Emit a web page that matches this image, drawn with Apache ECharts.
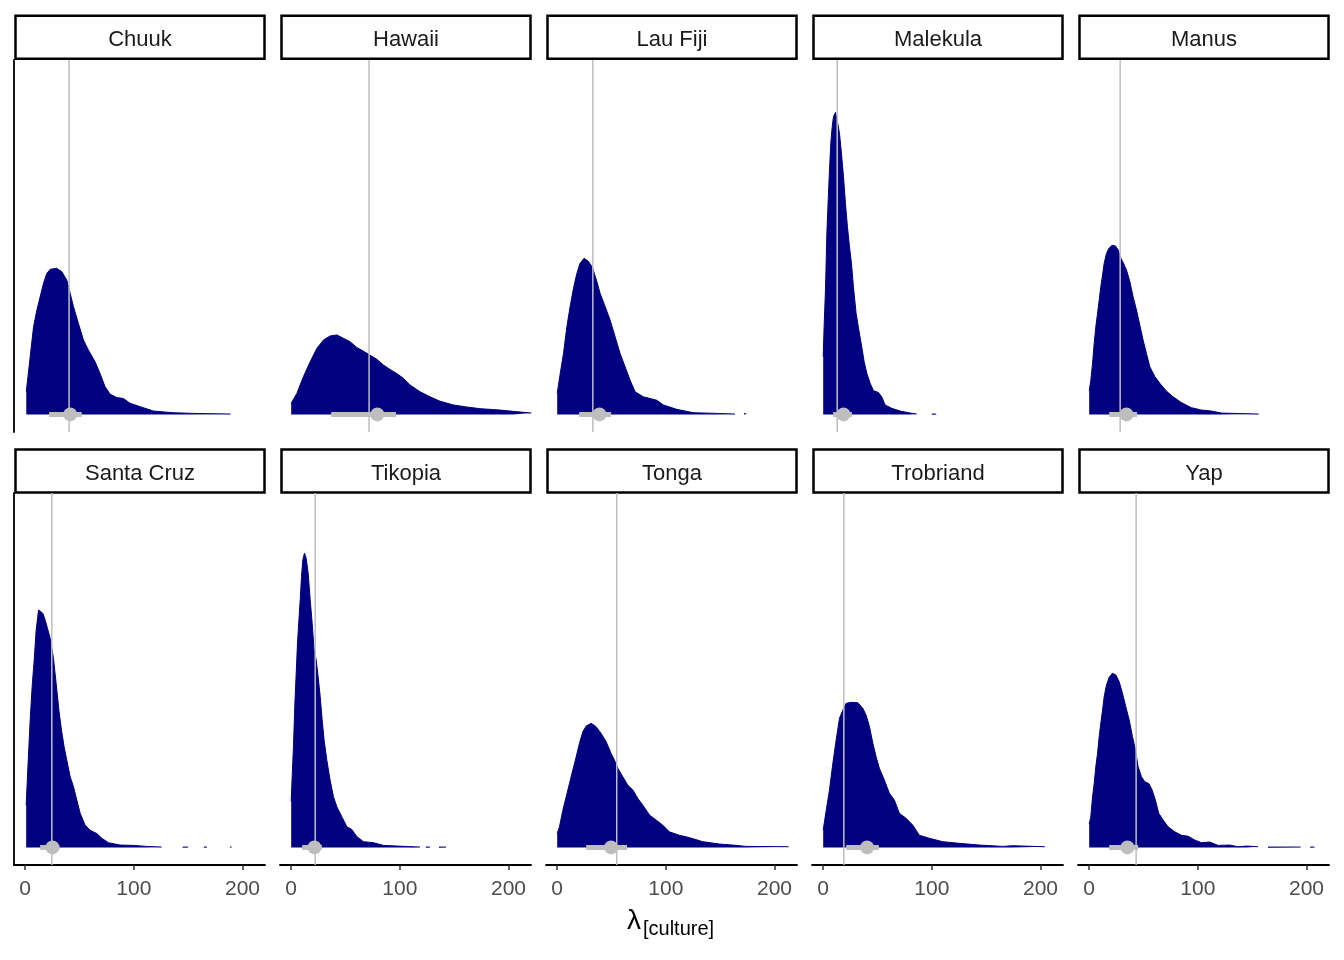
<!DOCTYPE html>
<html>
<head>
<meta charset="utf-8">
<script src="https://cdn.jsdelivr.net/npm/echarts@6/dist/echarts.min.js"></script>
<style>
  html, body { margin: 0; background: #fff; }
  #chart { width: 1344px; height: 960px; }
</style>
</head>
<body>
<div id="chart"></div>
<script>
const cultures = ['Chuuk', 'Hawaii', 'Lau Fiji', 'Malekula', 'Manus', 'Santa Cruz', 'Tikopia', 'Tonga', 'Trobriand', 'Yap']
const tickValues = [0, 100, 200]

// observed value (vertical line), posterior point estimate and interval
const observed = [40.4, 71.7, 32.8, 12.9, 28.5, 24.5, 22.1, 54.8, 19.0, 43.2]
const pointEst = [41.4, 79.3, 38.9, 18.7, 34.3, 25.1, 21.4, 49.6, 40.4, 35.2]
const lower = [22, 36.8, 20.2, 9.2, 18.4, 13.8, 10.1, 26.7, 21.1, 18.4]
const upper = [52, 96.5, 49.6, 26.4, 44.1, 31.5, 28.2, 64.3, 51.2, 45]

// posterior densities (relative height), null = gap
const chuukX = [1, 4.6, 7.7, 10.7, 13.8, 16.9, 19.9, 23, 29, 33.7, 38.3, 41.4, 44.4, 49, 53.6, 58.2, 64.3, 68.9, 73.5, 78.1, 84.3, 90.4, 96.5, 105.7, 118, 136, 155, 189]
const chuukD = [.067, .171, .259, .308, .348, .388, .417, .429, .432, .422, .397, .358, .319, .269, .220, .190, .156, .121, .082, .060, .050, .047, .033, .023, .010, .005, .003, .001]

const hawaiiX = [0, 5.2, 11.3, 17.5, 23.6, 29.7, 35.8, 42, 48.1, 54.2, 60.4, 66.5, 72.6, 78.8, 84.9, 91, 97.1, 103.2, 109.4, 118.6, 127.8, 137, 149.2, 161.5, 173.7, 192, 204.3, 221]
const hawaiiD = [.033, .062, .112, .156, .195, .220, .232, .235, .225, .215, .198, .187, .175, .163, .146, .133, .121, .107, .087, .067, .052, .039, .028, .022, .017, .013, .009, .004]

const lauFijiX = [0, 2.8, 5.8, 8.9, 11.9, 15, 18.1, 21.1, 24.8, 28.8, 32.4, 36.5, 39.5, 44.1, 48.7, 53.3, 57.9, 62.5, 67.1, 71.7, 79.3, 91.6, 97.7, 110, 125.3, 146.8, 163.6, 168, 172, 174]
const lauFijiD = [.062, .121, .180, .259, .319, .373, .417, .447, .462, .452, .435, .393, .358, .319, .279, .230, .180, .141, .101, .067, .052, .042, .028, .015, .005, .003, .001, null, .002, .002]

const malekulaX = [0, 0.9, 2.1, 3.4, 4.6, 5.8, 7.1, 8.3, 9.5, 11.3, 13.1, 15, 16.8, 18.7, 20.5, 22.3, 24.2, 26, 27.8, 30.3, 32.8, 35.2, 37.7, 40.2, 43.2, 46.3, 50.8, 53.9, 57, 63.1, 70.8, 80, 86.1, 93, 100, 104]
const malekulaD = [.171, .264, .368, .536, .634, .723, .807, .851, .881, .893, .866, .831, .772, .703, .624, .555, .496, .447, .378, .299, .249, .205, .156, .121, .092, .070, .065, .052, .028, .018, .010, .004, .001, null, .001, .001]

const manusX = [0, 1.5, 3.1, 4.6, 6.1, 7.7, 9.2, 10.7, 12.3, 13.8, 15.9, 18.1, 21.1, 24.2, 26.7, 29.1, 31.6, 34.3, 37.4, 40.4, 43.5, 46.6, 49.6, 52.7, 55.8, 60.4, 65, 71.1, 77.2, 84.9, 94, 103.2, 112.4, 121.6, 156]
const manusD = [.069, .101, .151, .210, .259, .299, .338, .378, .412, .447, .476, .491, .500, .498, .486, .462, .447, .427, .393, .348, .309, .264, .220, .180, .141, .112, .092, .069, .052, .035, .020, .013, .010, .004, .001]

const santaCruzX = [0.9, 2.8, 4.6, 6.4, 8.3, 10.1, 12.3, 14.1, 16.3, 18.4, 20.5, 23, 26, 28.5, 31, 33.4, 35.8, 38.3, 41.4, 44.4, 47.5, 50.6, 55.1, 59.7, 65.9, 70.5, 76.6, 87.3, 99.5, 111.8, 125.6, 135, 145, 150, 155, 164.5, 167.3, 178, 188.4, 190]
const santaCruzD = [.125, .258, .377, .476, .554, .643, .702, .707, .692, .672, .648, .618, .559, .485, .406, .347, .298, .258, .209, .180, .140, .101, .066, .051, .041, .027, .014, .007, .006, .003, .001, null, .001, .001, null, .001, .001, null, .001, .001]

const tikopiaX = [0, 0.9, 2.1, 3.4, 4.6, 5.8, 7.1, 8.3, 9.5, 10.7, 12.2, 13.8, 15.6, 17.5, 19.3, 21.1, 23, 24.8, 26.7, 28.5, 30.3, 32.8, 35.8, 38.9, 42, 46.6, 51.2, 55.8, 60.4, 66.5, 75.6, 84.9, 97.1, 112.4, 118.6, 121, 124, 127.8, 132, 136, 142.5]
const tikopiaD = [.135, .209, .298, .426, .515, .604, .672, .732, .801, .850, .870, .855, .811, .732, .663, .584, .554, .505, .446, .377, .317, .258, .199, .150, .120, .091, .061, .053, .032, .017, .014, .006, .004, .002, .001, null, .001, .001, null, .001, .001]

const tongaX = [0, 2.1, 5.2, 8.3, 11.3, 14.4, 17.5, 20.5, 23.6, 26.7, 31.3, 35.8, 40.4, 45, 49.6, 52.7, 55.8, 60.4, 65, 69.6, 74.2, 78.8, 84.9, 91, 97.1, 103.2, 112.4, 121.6, 133.9, 149.2, 161.5, 173.7, 213]
const tongaD = [.041, .061, .110, .150, .189, .229, .268, .308, .342, .359, .367, .357, .337, .313, .278, .258, .234, .209, .184, .170, .145, .125, .096, .081, .066, .046, .036, .029, .017, .010, .007, .003, .002]

const trobriandX = [0, 2.8, 5.8, 8.9, 11.9, 15, 18.1, 21.1, 25.7, 31.9, 36.5, 39.5, 42.6, 45.7, 48.7, 51.7, 56.3, 60.9, 65.5, 70.1, 76.3, 82.4, 88.5, 97.7, 110, 125.3, 143.7, 165.2, 174.4, 204]
const trobriandD = [.051, .110, .170, .249, .317, .382, .406, .426, .429, .428, .411, .391, .357, .308, .268, .234, .199, .160, .140, .101, .086, .066, .036, .027, .017, .012, .007, .003, .005, .002]

const yapX = [0, 1.5, 3.1, 4.6, 6.1, 7.7, 9.2, 10.7, 12.3, 13.8, 15.9, 18.4, 21.4, 24.5, 27.6, 30.6, 33.7, 36.8, 39.8, 42.6, 45, 48.1, 51.2, 54.9, 57.9, 60.9, 64, 68, 72.6, 78.8, 84.9, 91, 97.1, 103.2, 110.9, 118.6, 129.3, 137, 144.6, 155.3, 160, 164.5, 194.6, 199, 203.4, 207.4]
const yapD = [.069, .091, .150, .189, .239, .278, .328, .367, .406, .446, .480, .503, .515, .510, .490, .456, .416, .377, .328, .288, .239, .209, .194, .189, .170, .140, .101, .081, .061, .046, .036, .033, .022, .014, .016, .006, .007, .002, .004, .002, null, .001, .001, null, .001, .001]

const densX = [chuukX, hawaiiX, lauFijiX, malekulaX, manusX, santaCruzX, tikopiaX, tongaX, trobriandX, yapX]
const densD = [chuukD, hawaiiD, lauFijiD, malekulaD, manusD, santaCruzD, tikopiaD, tongaD, trobriandD, yapD]

const NAVY = '#000080'
const GREY = '#BEBEBE'
const FONT = '"Liberation Sans", Arial, sans-serif'
const X_MIN = -10.3, X_MAX = 220.7
const Y_MIN = -0.052, Y_MAX = 1.048
const GRID_W = 251, GRID_H = 372
const rowTop = [60, 493]
const stripTop = [15.8, 449.5]
const colLeft = c => 14 + 266 * c

const grids = [], xAxes = [], yAxes = [], series = [], graphics = []

cultures.forEach((name, i) => {
  const row = Math.floor(i / 5)
  const col = i % 5
  const left = colLeft(col)
  grids.push({ left: left, top: rowTop[row], width: GRID_W, height: GRID_H })

  xAxes.push({
    gridIndex: i, type: 'value', min: X_MIN, max: X_MAX,
    show: row === 1,
    axisLine: { show: true, onZero: false, lineStyle: { color: '#000', width: 1.8 } },
    axisTick: { show: true, customValues: tickValues, length: 5, lineStyle: { color: '#333', width: 1.5 } },
    axisLabel: { show: true, customValues: tickValues, color: '#4D4D4D', fontSize: 21, margin: 14, fontFamily: FONT },
    splitLine: { show: false }
  })
  yAxes.push({
    gridIndex: i, type: 'value', min: Y_MIN, max: Y_MAX,
    show: col === 0,
    axisLine: { show: true, onZero: false, lineStyle: { color: '#000', width: 1.8 } },
    axisTick: { show: false },
    axisLabel: { show: false },
    splitLine: { show: false }
  })

  series.push({
    type: 'line', xAxisIndex: i, yAxisIndex: i,
    data: densX[i].map((x, k) => [x, densD[i][k]]),
    symbol: 'none', connectNulls: false,
    lineStyle: { color: NAVY, width: 1 },
    areaStyle: { color: NAVY, opacity: 1 },
    z: 2
  })
  series.push({
    type: 'line', xAxisIndex: i, yAxisIndex: i,
    data: [[observed[i], Y_MIN], [observed[i], Y_MAX]],
    symbol: 'none', lineStyle: { color: GREY, width: 1.5 }, z: 3
  })
  series.push({
    type: 'line', xAxisIndex: i, yAxisIndex: i,
    data: [[lower[i], 0], [upper[i], 0]],
    symbol: 'none', lineStyle: { color: GREY, width: 5, cap: 'butt' }, z: 4
  })
  series.push({
    type: 'scatter', xAxisIndex: i, yAxisIndex: i,
    data: [[pointEst[i], 0]],
    symbolSize: 14, itemStyle: { color: GREY, opacity: 1 }, z: 5
  })

  // facet strip
  graphics.push({
    type: 'rect',
    shape: { x: left + 1.5, y: stripTop[row], width: 249, height: 43 },
    style: { fill: '#fff', stroke: '#000', lineWidth: 2.5 }
  })
  graphics.push({
    type: 'text',
    x: left + 1.5 + 124.5, y: stripTop[row] + 24,
    style: { text: name, fill: '#1A1A1A', font: '22px ' + FONT, align: 'center', verticalAlign: 'middle' }
  })
})

// axis title: lambda with subscript
graphics.push({
  type: 'text', x: 641, y: 921,
  style: { text: 'λ', fill: '#000', font: '28px ' + FONT, align: 'right', verticalAlign: 'middle' }
})
graphics.push({
  type: 'text', x: 643, y: 929,
  style: { text: '[culture]', fill: '#000', font: '20px ' + FONT, align: 'left', verticalAlign: 'middle' }
})

const chart = echarts.init(document.getElementById('chart'))
chart.setOption({
  animation: false,
  backgroundColor: '#fff',
  grid: grids,
  xAxis: xAxes,
  yAxis: yAxes,
  series: series,
  graphic: graphics
})
</script>
</body>
</html>
